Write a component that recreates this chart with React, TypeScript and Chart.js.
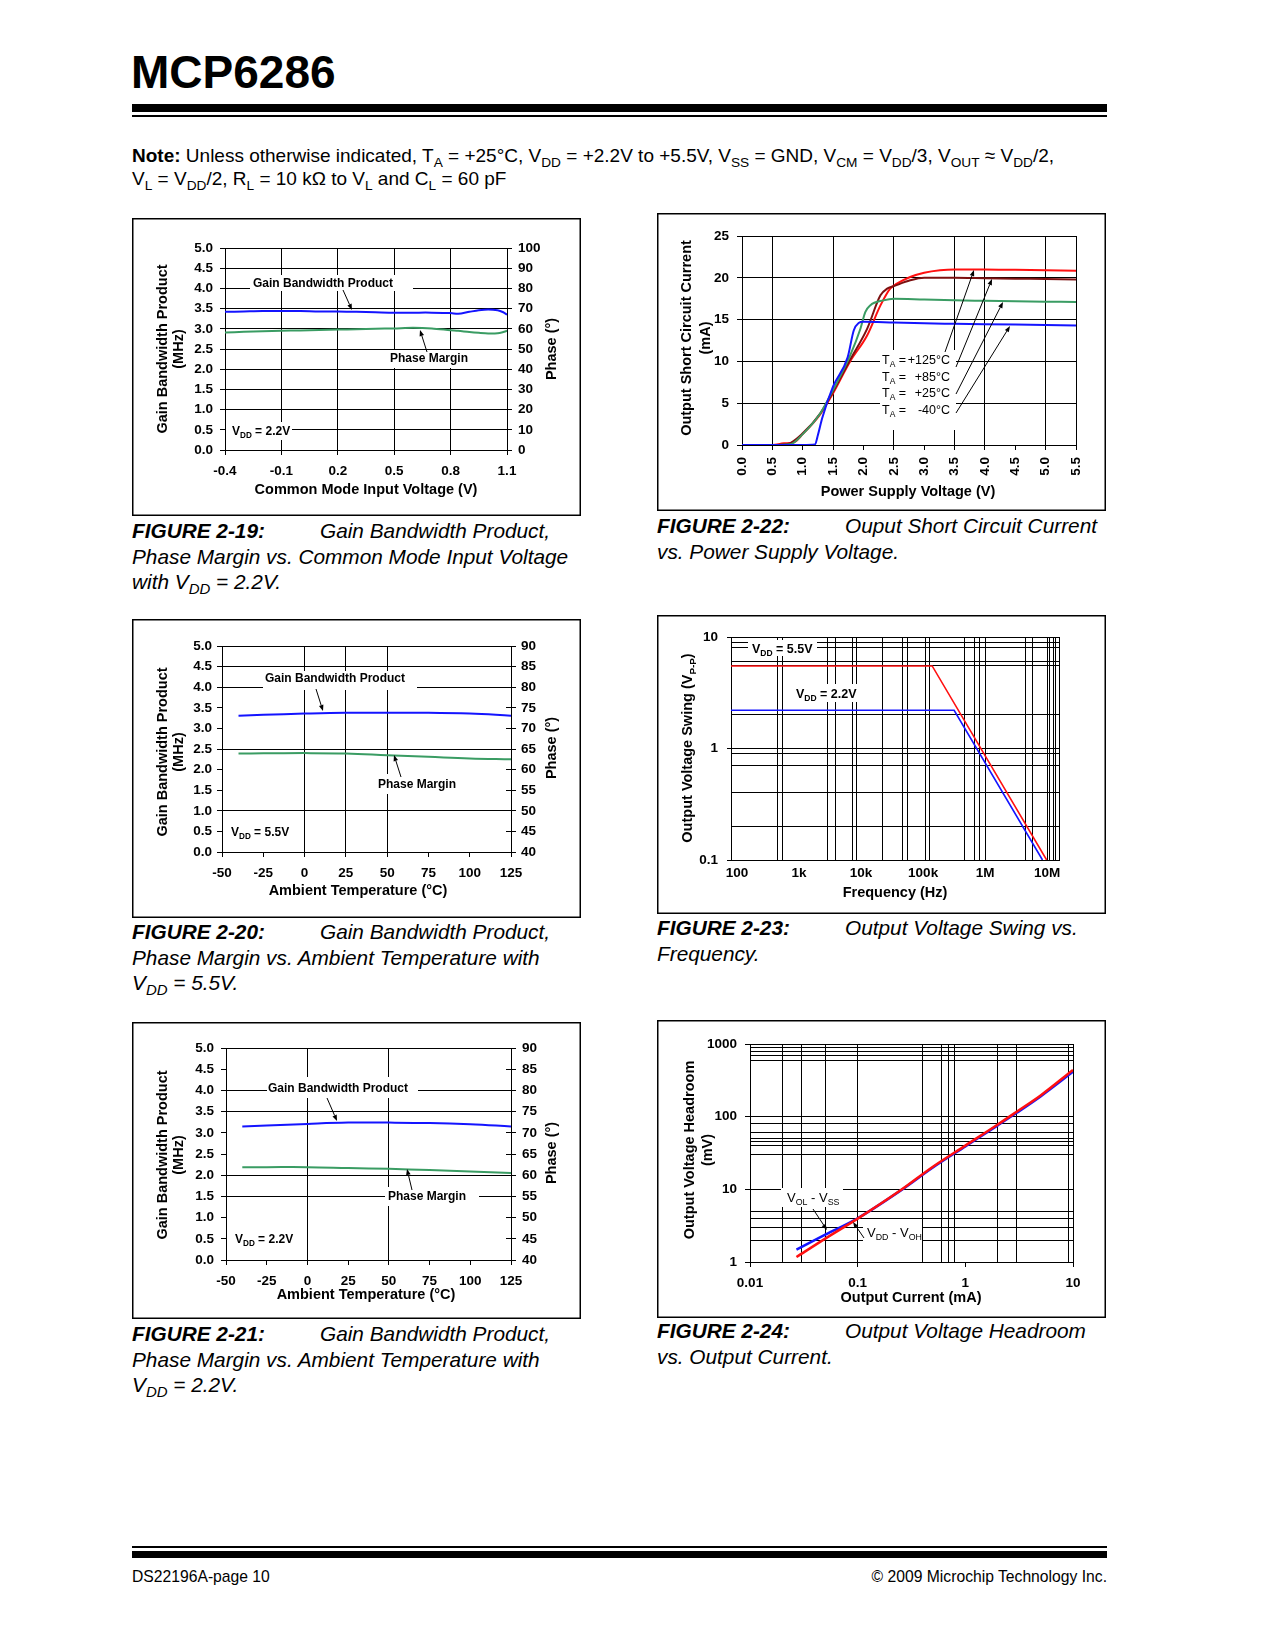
import React, { useEffect, useRef } from 'react';
import { Chart, registerables } from 'chart.js';

Chart.register(...registerables);

const FONT = '"Liberation Sans", Arial, Helvetica, sans-serif';
Chart.defaults.font.family = FONT;

const BLUE = '#1414ff';
const GREEN = '#3a9c63';
const RED = '#ff1010';
const MAROON = '#7c1010';

// ---------------- FIGURE 2-19 : GBP / PM vs VCM (VDD = 2.2V) ----------------
const F19_VCM = [-0.4, -0.3, -0.2, -0.1, 0.0, 0.1, 0.2, 0.3, 0.4, 0.5, 0.6, 0.7, 0.8, 0.84, 0.9, 0.95, 1.0, 1.05, 1.08, 1.1];
const F19_GBP = [3.42, 3.43, 3.44, 3.44, 3.44, 3.43, 3.43, 3.42, 3.41, 3.40, 3.40, 3.40, 3.39, 3.37, 3.42, 3.46, 3.48, 3.46, 3.41, 3.35];
const F19_PM = [58.2, 58.5, 58.8, 59.0, 59.2, 59.4, 59.6, 59.8, 60.0, 60.2, 60.5, 60.2, 59.3, 59.0, 58.4, 58.0, 57.7, 57.8, 58.4, 59.0];
const F19_X_TICKS = [-0.4, -0.1, 0.2, 0.5, 0.8, 1.1];
const GBP_TICKS = [0, 0.5, 1, 1.5, 2, 2.5, 3, 3.5, 4, 4.5, 5];
const F19_PHASE_TICKS = [0, 10, 20, 30, 40, 50, 60, 70, 80, 90, 100];

// ---------------- FIGURE 2-20 : GBP / PM vs Temperature (VDD = 5.5V) ----------------
const F20_TEMP = [-40, -25, 0, 25, 50, 75, 100, 125];
const F20_GBP = [3.31, 3.33, 3.36, 3.38, 3.38, 3.38, 3.36, 3.31];
const F20_PM = [63.9, 63.95, 64.0, 63.9, 63.5, 63.1, 62.7, 62.5];
const TEMP_TICKS = [-50, -25, 0, 25, 50, 75, 100, 125];
const PHASE_TICKS_40_90 = [40, 45, 50, 55, 60, 65, 70, 75, 80, 85, 90];
const F20_X_GRID = [0, 25, 50];
const F20_Y_GRID = [1, 2.5, 4, 4.5, 5];

// ---------------- FIGURE 2-21 : GBP / PM vs Temperature (VDD = 2.2V) ----------------
const F21_TEMP = [-40, -25, 0, 25, 50, 75, 100, 125];
const F21_GBP = [3.15, 3.17, 3.21, 3.24, 3.24, 3.23, 3.20, 3.15];
const F21_PM = [61.9, 61.9, 61.9, 61.7, 61.5, 61.2, 60.9, 60.5];
const F21_X_GRID = [0, 50];
const F21_Y_GRID = [1.5, 2, 3.5, 4, 5];

// ---------------- FIGURE 2-22 : Short circuit current vs VDD ----------------
const F22_X_TICKS = [0, 0.5, 1, 1.5, 2, 2.5, 3, 3.5, 4, 4.5, 5, 5.5];
const F22_X_GRID = [0.5, 1.5, 2.5, 3.5, 4, 5, 5.5];
const F22_Y_TICKS = [0, 5, 10, 15, 20, 25];
const F22_V_M40 = [0, 0.5, 1.0, 1.2, 1.25, 1.32, 1.5, 1.74, 1.84, 1.92, 2.0, 2.5, 3.0, 3.5, 4.0, 4.5, 5.0, 5.5];
const F22_I_M40 = [0, 0, 0, 0.05, 1.2, 3.2, 7.0, 10.5, 13.7, 14.6, 14.75, 14.65, 14.55, 14.5, 14.45, 14.4, 14.35, 14.3];
const F22_V_25 = [0, 0.5, 0.8, 1.0, 1.29, 1.5, 1.78, 1.95, 2.03, 2.11, 2.33, 2.5, 3.0, 3.5, 4.0, 4.5, 5.0, 5.5];
const F22_I_25 = [0, 0, 0.1, 1.3, 3.8, 6.6, 10.7, 13.9, 15.9, 16.7, 17.3, 17.5, 17.4, 17.3, 17.25, 17.2, 17.15, 17.1];
const F22_V_85 = [0, 0.5, 0.74, 1.0, 1.29, 1.5, 1.78, 2.06, 2.28, 2.39, 2.5, 2.77, 3.0, 3.5, 4.0, 4.5, 5.0, 5.5];
const F22_I_85 = [0, 0, 0.1, 1.4, 3.8, 6.4, 10.2, 13.9, 17.9, 18.7, 19.0, 19.7, 20.0, 20.0, 19.95, 19.9, 19.85, 19.8];
const F22_V_125 = [0, 0.5, 0.69, 0.85, 1.0, 1.29, 1.5, 1.78, 2.06, 2.28, 2.44, 2.55, 2.77, 3.0, 3.26, 3.5, 4.0, 4.5, 5.0, 5.5];
const F22_I_125 = [0, 0, 0.2, 0.3, 1.3, 3.7, 6.2, 10.0, 13.1, 16.7, 18.7, 19.3, 20.1, 20.6, 20.9, 21.0, 21.0, 20.95, 20.9, 20.85];
const F22_SERIES = ['+125°C', '+85°C', '+25°C', '-40°C'];

// ---------------- FIGURE 2-23 : Output voltage swing vs frequency ----------------
const F23_X_LABEL_VALUES = [100, 1e3, 1e4, 1e5, 1e6, 1e7];
const F23_X_LABELS = ['100', '1k', '10k', '100k', '1M', '10M'];
const F23_X_GRID = [450, 540, 2900, 3900, 7200, 8400, 22000, 46000, 57000, 110000, 125000, 470000, 680000, 820000, 1e6, 4.5e6, 5.8e6, 1e7, 1.1e7, 1.25e7, 1.38e7, 1.55e7];
const F23_Y_LABEL_VALUES = [0.1, 1, 10];
const F23_Y_LABELS = ['0.1', '1', '10'];
const F23_Y_GRID = [0.2, 0.4, 0.7, 0.9, 1, 2, 5.5, 6, 8, 9, 10];
const F23_FREQ_55 = [80, 140000, 9.8e6];
const F23_VPP_55 = [5.5, 5.5, 0.1];
const F23_FREQ_22 = [80, 316000, 8.4e6];
const F23_VPP_22 = [2.2, 2.2, 0.1];

// ---------------- FIGURE 2-24 : Output voltage headroom vs output current ----------------
const F24_X_LABEL_VALUES = [0.01, 0.1, 1, 10];
const F24_X_LABELS = ['0.01', '0.1', '1', '10'];
const F24_X_GRID = [0.02, 0.03, 0.05, 0.1, 0.4, 0.6, 0.7, 0.8, 2, 3, 9, 10];
const F24_Y_LABEL_VALUES = [1, 10, 100, 1000];
const F24_Y_LABELS = ['1', '10', '100', '1000'];
const F24_Y_GRID = [2, 3, 4, 5, 10, 30, 40, 45, 50, 60, 80, 100, 600, 700, 800, 900, 1000];
const F24_IOUT = [0.027, 0.05, 0.1, 0.25, 0.5, 1, 2, 3, 5, 10];
const F24_VOL_VSS = [1.48, 2.38, 4.0, 9.6, 20, 39, 76, 113, 190, 415];
const F24_VDD_VOH = [1.17, 2.1, 3.95, 9.7, 20.5, 40, 78, 117, 196, 440];

// ---------------- helpers ----------------
const near = (a: number, b: number) => Math.abs(a - b) <= 1e-9 + 1e-6 * Math.abs(b);
const has = (arr: number[], v: any) => typeof v === 'number' && arr.some((a) => near(a, v));
const uniq = (a: number[]) => Array.from(new Set(a)).sort((p, q) => p - q);
const pts = (xs: number[], ys: number[]) => xs.map((x, i) => ({ x, y: ys[i] }));
const lookup = (vals: number[], labels: string[]) => (v: number) => {
  const i = vals.findIndex((a) => near(a, v));
  return i >= 0 ? labels[i] : '';
};
const all = () => true;
const none = () => false;

function drawRich(ctx: CanvasRenderingContext2D, s: string, x: number, y: number, o: any) {
  const parts: { t: string; sub: boolean }[] = [];
  const re = /_\{([^}]*)\}/g;
  let last = 0;
  let m: RegExpExecArray | null;
  while ((m = re.exec(s))) {
    if (m.index > last) parts.push({ t: s.slice(last, m.index), sub: false });
    parts.push({ t: m[1], sub: true });
    last = m.index + m[0].length;
  }
  if (last < s.length) parts.push({ t: s.slice(last), sub: false });
  const size = o.size;
  const wt = o.bold ? 'bold' : 'normal';
  const fMain = `${wt} ${size}px ${FONT}`;
  const fSub = `${wt} ${size * 0.68}px ${FONT}`;
  ctx.save();
  ctx.translate(x, y);
  if (o.rot) ctx.rotate((o.rot * Math.PI) / 180);
  const widths = parts.map((p) => {
    ctx.font = p.sub ? fSub : fMain;
    return ctx.measureText(p.t).width;
  });
  const total = widths.reduce((a, b) => a + b, 0);
  let cx = o.align === 'center' ? -total / 2 : o.align === 'right' ? -total : 0;
  ctx.fillStyle = '#000';
  ctx.textBaseline = 'alphabetic';
  ctx.textAlign = 'left';
  const base = size * 0.36;
  parts.forEach((p, i) => {
    ctx.font = p.sub ? fSub : fMain;
    ctx.fillText(p.t, cx, base + (p.sub ? size * 0.24 : 0));
    cx += widths[i];
  });
  ctx.restore();
}

function drawArrow(ctx: CanvasRenderingContext2D, x1: number, y1: number, x2: number, y2: number) {
  const a = Math.atan2(y2 - y1, x2 - x1);
  const L = 6;
  const W = 2.3;
  const bx = x2 - L * Math.cos(a);
  const by = y2 - L * Math.sin(a);
  ctx.save();
  ctx.strokeStyle = '#000';
  ctx.fillStyle = '#000';
  ctx.lineWidth = 1;
  ctx.beginPath();
  ctx.moveTo(x1, y1);
  ctx.lineTo(bx, by);
  ctx.stroke();
  ctx.beginPath();
  ctx.moveTo(x2, y2);
  ctx.lineTo(bx + W * Math.sin(a), by - W * Math.cos(a));
  ctx.lineTo(bx - W * Math.sin(a), by + W * Math.cos(a));
  ctx.closePath();
  ctx.fill();
  ctx.restore();
}

function decorPlugin(d: any) {
  const { box } = d;
  return {
    id: 'decor',
    beforeDatasetsDraw(chart: any) {
      const ctx = chart.ctx as CanvasRenderingContext2D;
      ctx.save();
      ctx.fillStyle = '#fff';
      (d.whites || []).forEach(([x0, y0, x1, y1]: number[]) => ctx.fillRect(x0 - box.x, y0 - box.y, x1 - x0, y1 - y0));
      if (d.rightTicks && chart.scales.y1) {
        const s = chart.scales.y1;
        const r = chart.chartArea.right;
        ctx.strokeStyle = '#000';
        ctx.lineWidth = 1;
        s.ticks.forEach((t: any) => {
          const py = Math.round(s.getPixelForValue(t.value) + 0.5) - 0.5;
          ctx.beginPath();
          ctx.moveTo(r - 5, py);
          ctx.lineTo(r, py);
          ctx.stroke();
        });
      }
      ctx.restore();
    },
    afterDraw(chart: any) {
      const ctx = chart.ctx as CanvasRenderingContext2D;
      ctx.save();
      ctx.strokeStyle = '#000';
      ctx.lineWidth = 1.5;
      ctx.strokeRect(0.75, 0.75, box.w - 1.5, box.h - 1.5);
      ctx.restore();
      (d.texts || []).forEach((t: any) => drawRich(ctx, t.s, t.x - box.x, t.y - box.y, t));
      (d.arrows || []).forEach(([x1, y1, x2, y2]: number[]) => drawArrow(ctx, x1 - box.x, y1 - box.y, x2 - box.x, y2 - box.y));
    },
  };
}

function axis(o: any) {
  return {
    type: o.type,
    position: o.position,
    min: o.min,
    max: o.max,
    afterBuildTicks: (s: any) => {
      s.ticks = o.ticks.map((v: number) => ({ value: v }));
    },
    afterFit: (s: any) => {
      s[o.dim] = o.size;
    },
    ticks: {
      autoSkip: false,
      minRotation: o.rot || 0,
      maxRotation: o.rot || 0,
      padding: o.pad,
      color: '#000',
      font: { family: FONT, size: 13.5, weight: 'bold' },
      callback: (v: any) => o.fmt(Number(v)),
    },
    grid: {
      display: true,
      drawOnChartArea: o.onChart !== false,
      drawTicks: o.tickLen > 0,
      tickLength: o.tickLen,
      lineWidth: 1,
      tickWidth: 1,
      color: (c: any) => (c.tick && o.grid(c.tick.value) ? '#000' : 'rgba(0,0,0,0)'),
      tickColor: (c: any) => (c.tick && o.mark(c.tick.value) ? '#000' : 'rgba(0,0,0,0)'),
    },
    border: { display: true, color: '#000', width: 1 },
    title: { display: false },
  };
}

function series(xs: number[], ys: number[], color: string, width: number, yAxisID: string, tension: number, mono?: boolean) {
  return {
    data: pts(xs, ys),
    borderColor: color,
    backgroundColor: color,
    borderWidth: width,
    xAxisID: 'x',
    yAxisID,
    pointRadius: 0,
    tension,
    cubicInterpolationMode: mono ? 'monotone' : 'default',
    fill: false,
  };
}

function buildConfig(s: any) {
  const { box, plot } = s;
  const L = plot[0] - box.x;
  const T = plot[1] - box.y;
  const R = plot[2] - box.x;
  const B = plot[3] - box.y;
  const scales: any = {
    x: axis({ ...s.x, position: 'bottom', dim: 'height', size: box.h - B }),
    y: axis({ ...s.y, position: 'left', dim: 'width', size: L }),
  };
  if (s.y1) scales.y1 = axis({ ...s.y1, position: 'right', dim: 'width', size: box.w - R, onChart: false });
  return {
    type: 'line',
    data: { datasets: s.datasets },
    options: {
      responsive: false,
      animation: false,
      devicePixelRatio: 1,
      events: [],
      layout: { padding: { top: T, left: 0, bottom: 0, right: s.y1 ? 0 : box.w - R } },
      plugins: { legend: { display: false }, tooltip: { enabled: false }, title: { display: false } },
      elements: { point: { radius: 0 } },
      scales,
    },
    plugins: [decorPlugin({ ...s.decor, box, rightTicks: !!s.y1 })],
  };
}

const TT = (s: string, x: number, y: number, extra?: any) => ({ s, x, y, size: 14.5, bold: true, align: 'center', ...(extra || {}) });
const AN = (s: string, x: number, y: number, extra?: any) => ({ s, x, y, size: 12, bold: true, align: 'center', ...(extra || {}) });

const fix1 = (v: number) => v.toFixed(1);
const str = (v: number) => String(v);

// ---------------- chart specs ----------------
const SPEC19 = {
  box: { x: 132, y: 218, w: 449, h: 298 },
  plot: [225, 248, 507, 450],
  x: { type: 'linear', min: -0.4, max: 1.1, ticks: F19_X_TICKS, fmt: fix1, grid: all, mark: all, tickLen: 5, pad: 8 },
  y: { type: 'linear', min: 0, max: 5, ticks: GBP_TICKS, fmt: fix1, grid: all, mark: all, tickLen: 5, pad: 7 },
  y1: { type: 'linear', min: 0, max: 100, ticks: F19_PHASE_TICKS, fmt: str, grid: none, mark: all, tickLen: 5, pad: 6 },
  datasets: [series(F19_VCM, F19_GBP, BLUE, 2, 'y', 0.3), series(F19_VCM, F19_PM, GREEN, 2, 'y1', 0.3)],
  decor: {
    whites: [[250, 275, 413, 291], [388, 350, 468, 368], [226, 422, 292, 440]],
    texts: [
      TT('Gain Bandwidth Product', 162, 349, { rot: -90 }),
      TT('(MHz)', 178, 349, { rot: -90 }),
      TT('Phase (°)', 551, 349, { rot: -90 }),
      TT('Common Mode Input Voltage (V)', 366, 489),
      AN('Gain Bandwidth Product', 323, 283),
      AN('Phase Margin', 429, 358),
      AN('V_{DD} = 2.2V', 232, 431, { align: 'left' }),
    ],
    arrows: [[343, 290, 352, 310], [427, 352, 420, 330]],
  },
};

const SPEC20 = {
  box: { x: 132, y: 619, w: 449, h: 299 },
  plot: [222, 646, 511, 852],
  x: { type: 'linear', min: -50, max: 125, ticks: TEMP_TICKS, fmt: str, grid: (v: number) => has(F20_X_GRID, v), mark: all, tickLen: 5, pad: 8 },
  y: { type: 'linear', min: 0, max: 5, ticks: GBP_TICKS, fmt: fix1, grid: (v: number) => has(F20_Y_GRID, v), mark: all, tickLen: 5, pad: 5 },
  y1: { type: 'linear', min: 40, max: 90, ticks: PHASE_TICKS_40_90, fmt: str, grid: none, mark: all, tickLen: 5, pad: 5 },
  datasets: [series(F20_TEMP, F20_GBP, BLUE, 2, 'y', 0.4), series(F20_TEMP, F20_PM, GREEN, 2, 'y1', 0.4)],
  decor: {
    whites: [[263, 671, 417, 690], [375, 774, 458, 794]],
    texts: [
      TT('Gain Bandwidth Product', 162, 752, { rot: -90 }),
      TT('(MHz)', 178, 752, { rot: -90 }),
      TT('Phase (°)', 551, 748, { rot: -90 }),
      TT('Ambient Temperature (°C)', 358, 890),
      AN('Gain Bandwidth Product', 335, 678),
      AN('Phase Margin', 417, 784),
      AN('V_{DD} = 5.5V', 231, 832, { align: 'left' }),
    ],
    arrows: [[316, 689, 323, 711], [401, 777, 394, 755]],
  },
};

const SPEC21 = {
  box: { x: 132, y: 1022, w: 449, h: 297 },
  plot: [226, 1048, 511, 1260],
  x: { type: 'linear', min: -50, max: 125, ticks: TEMP_TICKS, fmt: str, grid: (v: number) => has(F21_X_GRID, v), mark: all, tickLen: 5, pad: 8 },
  y: { type: 'linear', min: 0, max: 5, ticks: GBP_TICKS, fmt: fix1, grid: (v: number) => has(F21_Y_GRID, v), mark: all, tickLen: 5, pad: 7 },
  y1: { type: 'linear', min: 40, max: 90, ticks: PHASE_TICKS_40_90, fmt: str, grid: none, mark: all, tickLen: 5, pad: 6 },
  datasets: [series(F21_TEMP, F21_GBP, BLUE, 2, 'y', 0.4), series(F21_TEMP, F21_PM, GREEN, 2, 'y1', 0.4)],
  decor: {
    whites: [[267, 1077, 418, 1098], [385, 1187, 479, 1206]],
    texts: [
      TT('Gain Bandwidth Product', 162, 1155, { rot: -90 }),
      TT('(MHz)', 178, 1155, { rot: -90 }),
      TT('Phase (°)', 551, 1153, { rot: -90 }),
      TT('Ambient Temperature (°C)', 366, 1294),
      AN('Gain Bandwidth Product', 338, 1088),
      AN('Phase Margin', 427, 1196),
      AN('V_{DD} = 2.2V', 235, 1239, { align: 'left' }),
    ],
    arrows: [[327, 1098, 337, 1121], [412, 1190, 407, 1169]],
  },
};

const F22_LEG_Y = [359, 376, 392, 409];
const SPEC22 = {
  box: { x: 657, y: 213, w: 449, h: 298 },
  plot: [742, 236, 1076, 445],
  x: { type: 'linear', min: 0, max: 5.5, ticks: F22_X_TICKS, fmt: fix1, grid: (v: number) => has(F22_X_GRID, v), mark: all, tickLen: 5, pad: 7, rot: 90 },
  y: { type: 'linear', min: 0, max: 25, ticks: F22_Y_TICKS, fmt: str, grid: all, mark: all, tickLen: 5, pad: 8 },
  datasets: [
    series(F22_V_M40, F22_I_M40, BLUE, 2, 'y', 0.4, true),
    series(F22_V_25, F22_I_25, GREEN, 2, 'y', 0.4, true),
    series(F22_V_85, F22_I_85, MAROON, 2, 'y', 0.4, true),
    series(F22_V_125, F22_I_125, RED, 2, 'y', 0.4, true),
  ],
  decor: {
    whites: [[880, 350, 956, 430]],
    texts: [
      TT('Output Short Circuit Current', 686, 338, { rot: -90 }),
      TT('(mA)', 705, 338, { rot: -90 }),
      TT('Power Supply Voltage (V)', 908, 491),
      ...F22_SERIES.map((lab, i) => ({ s: 'T_{A} =', x: 882, y: F22_LEG_Y[i], size: 12.5, bold: false, align: 'left' })),
      ...F22_SERIES.map((lab, i) => ({ s: lab, x: 950, y: F22_LEG_Y[i], size: 12.5, bold: false, align: 'right' })),
    ],
    arrows: [[945, 352, 974, 270], [956, 367, 992, 279], [956, 394, 1003, 302], [956, 413, 1010, 326]],
  },
};

const SPEC23 = {
  box: { x: 657, y: 615, w: 449, h: 299 },
  plot: [731, 637, 1059, 860],
  x: {
    type: 'logarithmic', min: 80, max: 1.55e7, ticks: uniq([...F23_X_LABEL_VALUES, ...F23_X_GRID]),
    fmt: lookup(F23_X_LABEL_VALUES, F23_X_LABELS), grid: (v: number) => has(F23_X_GRID, v), mark: none, tickLen: 0, pad: 5,
  },
  y: {
    type: 'logarithmic', min: 0.1, max: 10, ticks: uniq([...F23_Y_LABEL_VALUES, ...F23_Y_GRID]),
    fmt: lookup(F23_Y_LABEL_VALUES, F23_Y_LABELS), grid: (v: number) => has(F23_Y_GRID, v), mark: (v: number) => has(F23_Y_LABEL_VALUES, v), tickLen: 4, pad: 9,
  },
  datasets: [series(F23_FREQ_22, F23_VPP_22, BLUE, 1.6, 'y', 0), series(F23_FREQ_55, F23_VPP_55, RED, 1.6, 'y', 0)],
  decor: {
    whites: [[748, 640, 817, 656], [793, 684, 858, 702]],
    texts: [
      TT('Output Voltage Swing (V_{P-P})', 687, 748, { rot: -90 }),
      TT('Frequency (Hz)', 895, 892),
      AN('V_{DD} = 5.5V', 752, 648, { align: 'left', size: 12.5 }),
      AN('V_{DD} = 2.2V', 796, 693, { align: 'left', size: 12.5 }),
    ],
    arrows: [],
  },
};

const SPEC24 = {
  box: { x: 657, y: 1020, w: 449, h: 298 },
  plot: [750, 1044, 1073, 1262],
  x: {
    type: 'logarithmic', min: 0.01, max: 10, ticks: uniq([...F24_X_LABEL_VALUES, ...F24_X_GRID]),
    fmt: lookup(F24_X_LABEL_VALUES, F24_X_LABELS), grid: (v: number) => has(F24_X_GRID, v), mark: (v: number) => has(F24_X_LABEL_VALUES, v), tickLen: 5, pad: 8,
  },
  y: {
    type: 'logarithmic', min: 1, max: 1000, ticks: uniq([...F24_Y_LABEL_VALUES, ...F24_Y_GRID]),
    fmt: lookup(F24_Y_LABEL_VALUES, F24_Y_LABELS), grid: (v: number) => has(F24_Y_GRID, v), mark: (v: number) => has(F24_Y_LABEL_VALUES, v), tickLen: 5, pad: 8,
  },
  datasets: [series(F24_IOUT, F24_VDD_VOH, RED, 2.5, 'y', 0.3, true), series(F24_IOUT, F24_VOL_VSS, BLUE, 2.5, 'y', 0.3, true)],
  decor: {
    whites: [[781, 1188, 843, 1207], [863, 1221, 922, 1244]],
    texts: [
      TT('Output Voltage Headroom', 689, 1150, { rot: -90 }),
      TT('(mV)', 707, 1150, { rot: -90 }),
      TT('Output Current (mA)', 911, 1297),
      { s: 'V_{OL} - V_{SS}', x: 787, y: 1197, size: 13, bold: false, align: 'left' },
      { s: 'V_{DD} - V_{OH}', x: 867, y: 1232, size: 13, bold: false, align: 'left' },
    ],
    arrows: [[813, 1209, 827, 1230], [864, 1238, 853, 1222]],
  },
};

// ---------------- components ----------------
function ChartBox({ spec }: { spec: any }) {
  const ref = useRef<HTMLCanvasElement>(null);
  useEffect(() => {
    const chart = new Chart(ref.current as HTMLCanvasElement, buildConfig(spec) as any);
    return () => chart.destroy();
  }, []);
  const { box } = spec;
  return (
    <canvas
      ref={ref}
      width={box.w}
      height={box.h}
      style={{ position: 'absolute', left: box.x, top: box.y, width: box.w, height: box.h, display: 'block' }}
    />
  );
}

const Sub = ({ children }: any) => (
  <span style={{ fontSize: '0.72em', position: 'relative', top: '0.35em', lineHeight: 0 }}>{children}</span>
);

function Txt({ x, base, size, bold, italic, right, children }: any) {
  const style: any = {
    position: 'absolute',
    top: base - 0.8465 * size,
    fontSize: size,
    lineHeight: `${size}px`,
    whiteSpace: 'nowrap',
    fontWeight: bold ? 'bold' : 'normal',
    fontStyle: italic ? 'italic' : 'normal',
  };
  if (right) style.right = 1275 - x;
  else style.left = x;
  return <div style={style}>{children}</div>;
}

const CAP = 20.8;
const CAP_LH = 25.2;
function Caption({ x, base, fig, first, rest }: any) {
  return (
    <>
      <Txt x={x} base={base} size={CAP} bold italic>{fig}</Txt>
      <Txt x={x + 188} base={base} size={CAP} italic>{first}</Txt>
      {rest.map((r: any, i: number) => (
        <Txt key={i} x={x} base={base + CAP_LH * (i + 1)} size={CAP} italic>{r}</Txt>
      ))}
    </>
  );
}

export default function App() {
  return (
    <div
      style={{
        position: 'absolute', left: 0, top: 0, width: 1275, height: 1650, overflow: 'hidden',
        background: '#fff', color: '#000', fontFamily: FONT,
      }}
    >
      <Txt x={131} base={88} size={46} bold>MCP6286</Txt>
      <div style={{ position: 'absolute', left: 132, top: 104, width: 975, height: 8, background: '#000' }} />
      <div style={{ position: 'absolute', left: 132, top: 115, width: 975, height: 2, background: '#000' }} />

      <Txt x={132} base={162.5} size={19}>
        <b>Note:</b> Unless otherwise indicated, T<Sub>A</Sub> = +25°C, V<Sub>DD</Sub> = +2.2V to +5.5V, V<Sub>SS</Sub> = GND,
        V<Sub>CM</Sub> = V<Sub>DD</Sub>/3, V<Sub>OUT</Sub> ≈ V<Sub>DD</Sub>/2,
      </Txt>
      <Txt x={132} base={185.5} size={19}>
        V<Sub>L</Sub> = V<Sub>DD</Sub>/2, R<Sub>L</Sub> = 10 kΩ to V<Sub>L</Sub> and C<Sub>L</Sub> = 60 pF
      </Txt>

      <ChartBox spec={SPEC19} />
      <ChartBox spec={SPEC22} />
      <ChartBox spec={SPEC20} />
      <ChartBox spec={SPEC23} />
      <ChartBox spec={SPEC21} />
      <ChartBox spec={SPEC24} />

      <Caption x={132} base={539} fig="FIGURE 2-19:" first="Gain Bandwidth Product,"
        rest={['Phase Margin vs. Common Mode Input Voltage', <>with V<Sub>DD</Sub> = 2.2V.</>]} />
      <Caption x={657} base={534} fig="FIGURE 2-22:" first="Ouput Short Circuit Current"
        rest={['vs. Power Supply Voltage.']} />
      <Caption x={132} base={940} fig="FIGURE 2-20:" first="Gain Bandwidth Product,"
        rest={['Phase Margin vs. Ambient Temperature with', <>V<Sub>DD</Sub> = 5.5V.</>]} />
      <Caption x={657} base={936} fig="FIGURE 2-23:" first="Output Voltage Swing vs."
        rest={['Frequency.']} />
      <Caption x={132} base={1342} fig="FIGURE 2-21:" first="Gain Bandwidth Product,"
        rest={['Phase Margin vs. Ambient Temperature with', <>V<Sub>DD</Sub> = 2.2V.</>]} />
      <Caption x={657} base={1339} fig="FIGURE 2-24:" first="Output Voltage Headroom"
        rest={['vs. Output Current.']} />

      <div style={{ position: 'absolute', left: 132, top: 1546, width: 975, height: 2, background: '#000' }} />
      <div style={{ position: 'absolute', left: 132, top: 1551, width: 975, height: 7, background: '#000' }} />
      <Txt x={132} base={1582} size={15.7}>DS22196A-page 10</Txt>
      <Txt x={1107} base={1582} size={15.7} right>© 2009 Microchip Technology Inc.</Txt>
    </div>
  );
}
